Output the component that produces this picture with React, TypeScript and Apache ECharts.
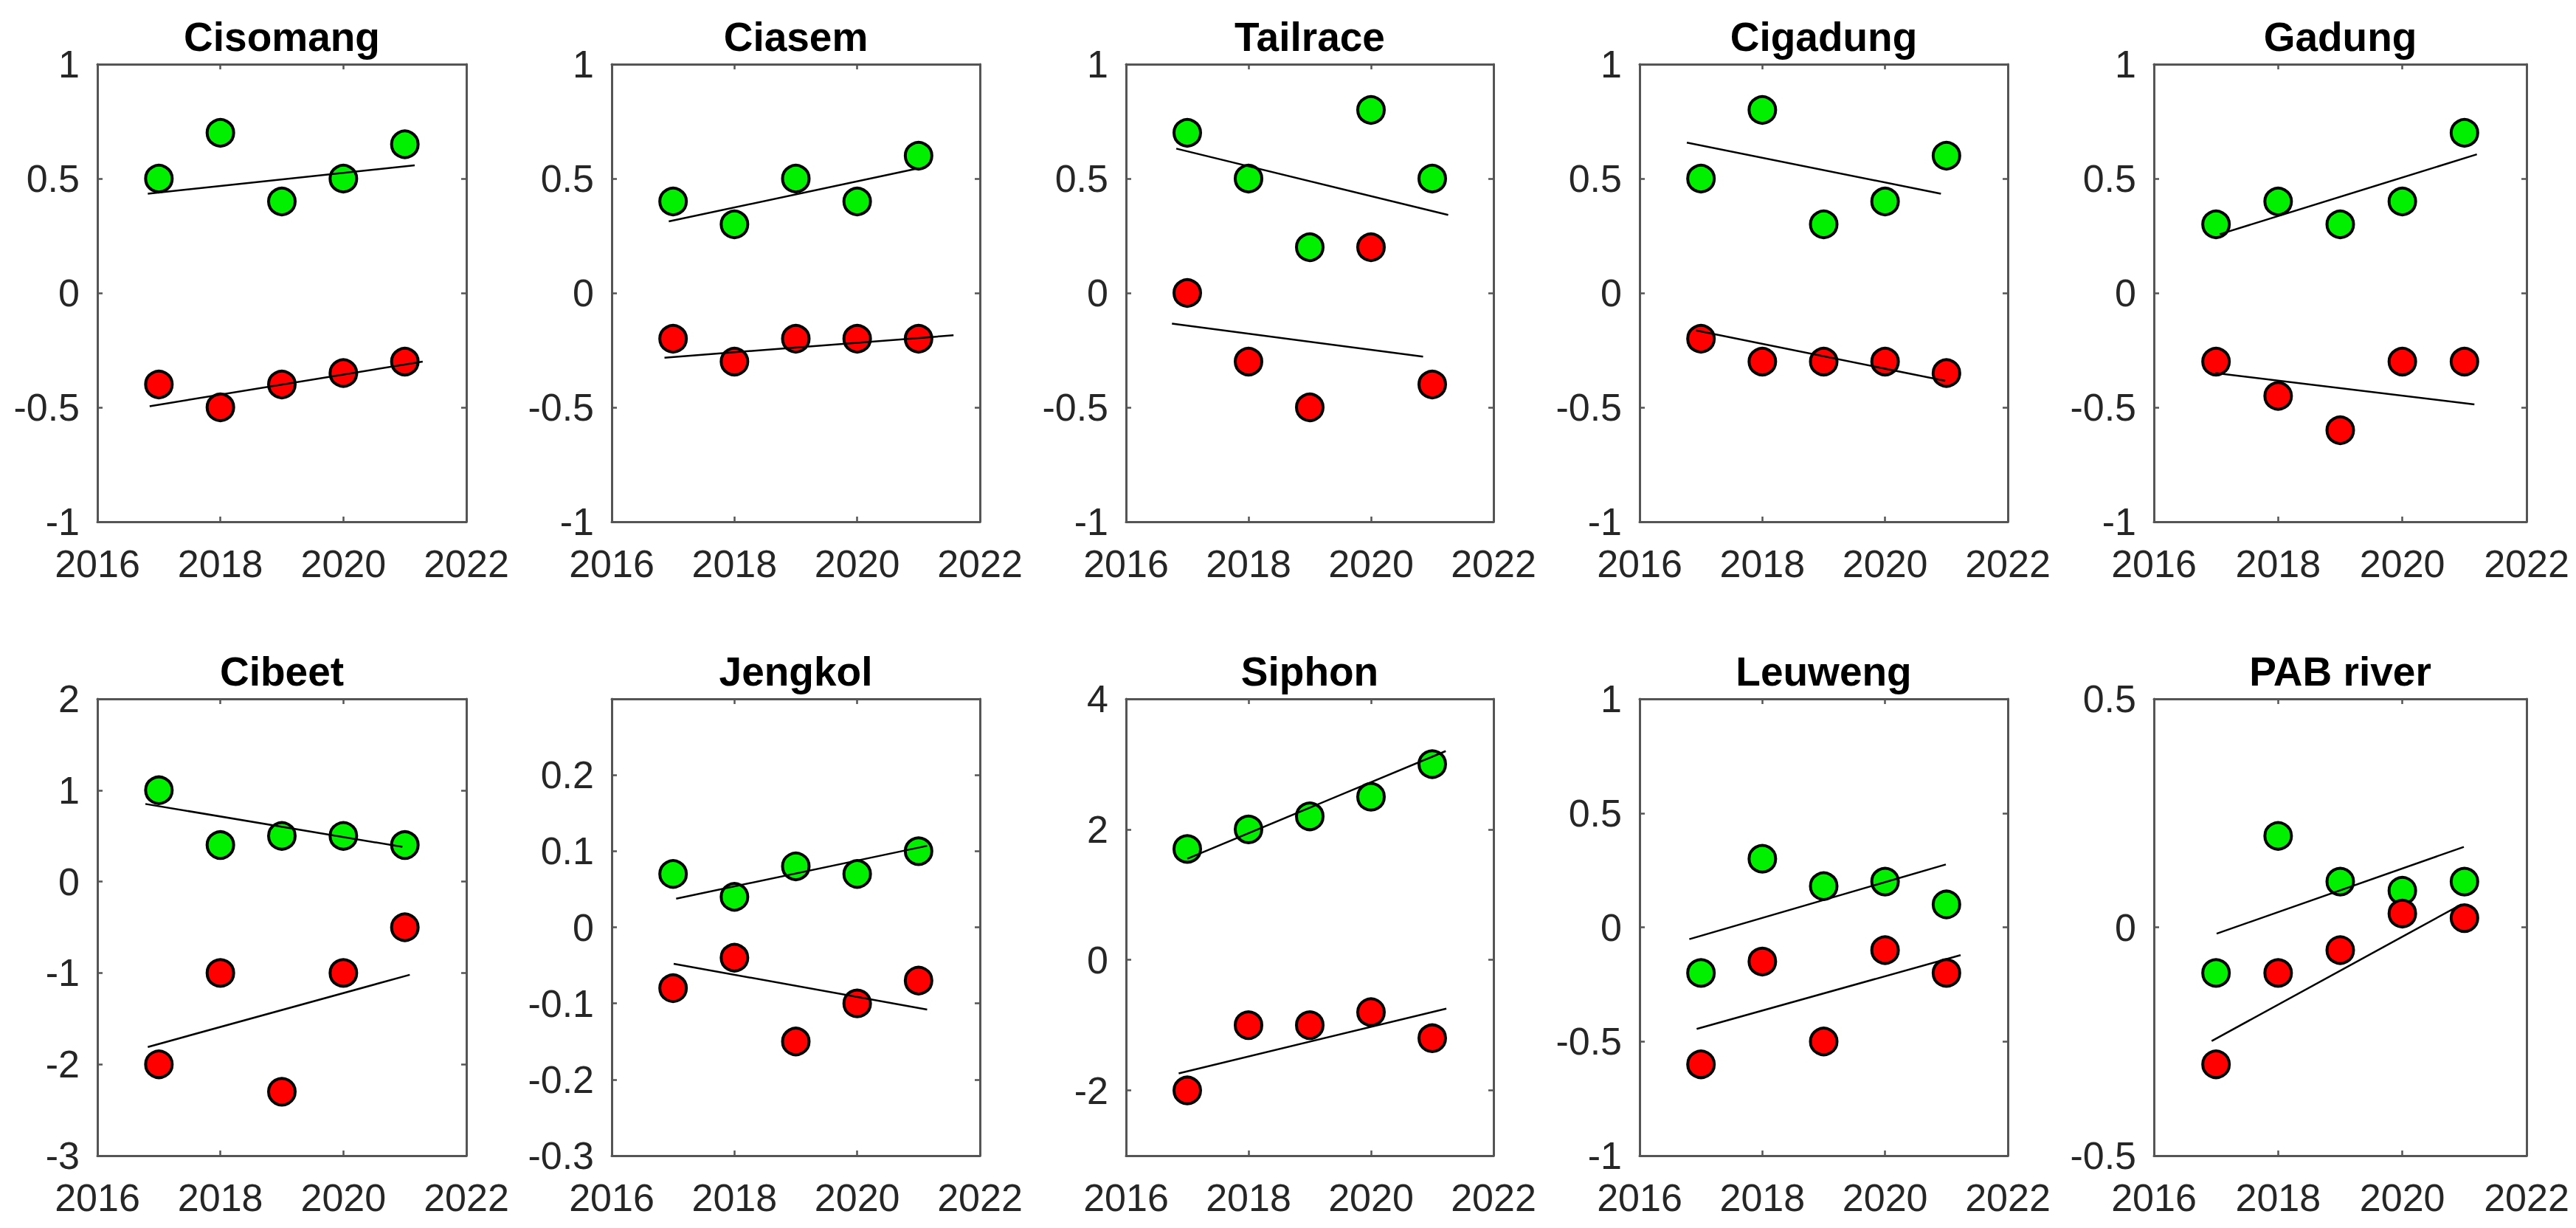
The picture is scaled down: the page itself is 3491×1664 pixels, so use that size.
import React, { useEffect, useRef } from 'react';
import * as echarts from 'echarts';

const SITE_NAMES = ['Cisomang', 'Ciasem', 'Tailrace', 'Cigadung', 'Gadung', 'Cibeet', 'Jengkol', 'Siphon', 'Leuweng', 'PAB river'];
const YEARS = [2017, 2018, 2019, 2020, 2021];
const X_MIN = 2016;
const X_MAX = 2022;
const X_STEP = 2;

const GREEN_VALUES = [
  [0.5, 0.7, 0.4, 0.5, 0.65],
  [0.4, 0.3, 0.5, 0.4, 0.6],
  [0.7, 0.5, 0.2, 0.8, 0.5],
  [0.5, 0.8, 0.3, 0.4, 0.6],
  [0.3, 0.4, 0.3, 0.4, 0.7],
  [1.0, 0.4, 0.5, 0.5, 0.4],
  [0.07, 0.04, 0.08, 0.07, 0.1],
  [1.7, 2.0, 2.2, 2.5, 3.0],
  [-0.2, 0.3, 0.18, 0.2, 0.1],
  [-0.1, 0.2, 0.1, 0.08, 0.1],
];
const RED_VALUES = [
  [-0.4, -0.5, -0.4, -0.35, -0.3],
  [-0.2, -0.3, -0.2, -0.2, -0.2],
  [0, -0.3, -0.5, 0.2, -0.4],
  [-0.2, -0.3, -0.3, -0.3, -0.35],
  [-0.3, -0.45, -0.6, -0.3, -0.3],
  [-2, -1, -2.3, -1, -0.5],
  [-0.08, -0.04, -0.15, -0.1, -0.07],
  [-2, -1, -1, -0.8, -1.2],
  [-0.6, -0.15, -0.5, -0.1, -0.2],
  [-0.3, -0.1, -0.05, 0.03, 0.02],
];
// trend line endpoints: [xStart, yStart, xEnd, yEnd]
const GREEN_TREND = [
  [2016.82, 0.434, 2021.16, 0.558],
  [2016.93, 0.313, 2021.0, 0.545],
  [2016.82, 0.631, 2021.26, 0.341],
  [2016.77, 0.657, 2020.91, 0.434],
  [2017.06, 0.257, 2021.2, 0.606],
  [2016.78, 0.85, 2020.96, 0.38],
  [2017.05, 0.0376, 2021.14, 0.107],
  [2017.0, 1.55, 2021.22, 3.2],
  [2016.81, -0.052, 2020.99, 0.275],
  [2017.01, -0.014, 2020.99, 0.176],
];
const RED_TREND = [
  [2016.85, -0.495, 2021.29, -0.3],
  [2016.86, -0.283, 2021.57, -0.185],
  [2016.75, -0.134, 2020.85, -0.278],
  [2016.92, -0.164, 2020.98, -0.384],
  [2016.99, -0.35, 2021.16, -0.487],
  [2016.82, -1.81, 2021.08, -1.02],
  [2017.01, -0.048, 2021.14, -0.108],
  [2016.86, -1.74, 2021.23, -0.746],
  [2016.93, -0.445, 2021.23, -0.122],
  [2016.93, -0.249, 2020.95, 0.05],
];
const Y_MIN = [-1, -1, -1, -1, -1, -3, -0.3, -3, -1, -0.5];
const Y_MAX = [1, 1, 1, 1, 1, 2, 0.3, 4, 1, 0.5];
const Y_TICKS = [
  [-1, -0.5, 0, 0.5, 1],
  [-1, -0.5, 0, 0.5, 1],
  [-1, -0.5, 0, 0.5, 1],
  [-1, -0.5, 0, 0.5, 1],
  [-1, -0.5, 0, 0.5, 1],
  [-3, -2, -1, 0, 1, 2],
  [-0.3, -0.2, -0.1, 0, 0.1, 0.2],
  [-2, 0, 2, 4],
  [-1, -0.5, 0, 0.5, 1],
  [-0.5, 0, 0.5],
];

const COL_LEFT = [132, 829, 1526, 2222, 2919];
const COL_W = [500, 499, 498, 499, 505];
const ROW_TOP = [87, 947];
const ROW_H = [620, 619];
const TITLE_Y = [50, 910];

const FONT = 'Liberation Sans';
const AXIS_COLOR = '#555555';
const LABEL_COLOR = '#262626';
const GREEN = '#00f000';
const RED = '#ff0000';

function fmt(v: number) {
  const r = Math.round(v * 1000) / 1000;
  return String(r);
}

function buildOption() {
  const grid: any[] = [];
  const xAxis: any[] = [];
  const yAxis: any[] = [];
  const series: any[] = [];
  const graphic: any[] = [];

  SITE_NAMES.forEach((name, i) => {
    const row = Math.floor(i / 5);
    const col = i % 5;
    grid.push({ left: COL_LEFT[col], top: ROW_TOP[row], width: COL_W[col], height: ROW_H[row], containLabel: false });

    const lineStyle = { color: AXIS_COLOR, width: 3 };
    const tickStyle = { color: AXIS_COLOR, width: 2.5 };
    const baseX = {
      type: 'value', gridIndex: i, min: X_MIN, max: X_MAX, interval: X_STEP,
      axisLine: { show: true, onZero: false, lineStyle },
      axisTick: { show: true, inside: true, length: 7, lineStyle: tickStyle },
      splitLine: { show: false },
    };
    xAxis.push({
      ...baseX, position: 'bottom',
      axisLabel: { show: true, margin: 31, fontSize: 52, fontFamily: FONT, color: LABEL_COLOR, formatter: (v: number) => String(v), showMinLabel: true, showMaxLabel: true },
    });
    xAxis.push({ ...baseX, position: 'top', axisLabel: { show: false } });

    const baseY = {
      type: 'value', gridIndex: i, min: Y_MIN[i], max: Y_MAX[i],
      axisLine: { show: true, onZero: false, lineStyle },
      axisTick: { show: true, inside: true, length: 7, lineStyle: tickStyle, customValues: Y_TICKS[i] },
      splitLine: { show: false },
    };
    yAxis.push({
      ...baseY, position: 'left',
      axisLabel: { show: true, margin: 24, fontSize: 52, fontFamily: FONT, color: LABEL_COLOR, formatter: (v: number) => fmt(v), customValues: Y_TICKS[i] },
    });
    yAxis.push({ ...baseY, position: 'right', axisLabel: { show: false } });

    const xi = 2 * i;
    const yi = 2 * i;
    series.push({
      type: 'scatter', xAxisIndex: xi, yAxisIndex: yi,
      data: YEARS.map((yr, k) => [yr, GREEN_VALUES[i][k]]),
      symbol: 'circle', symbolSize: 36,
      itemStyle: { color: GREEN, borderColor: '#000', borderWidth: 4, opacity: 1 },
      z: 2, silent: true,
    });
    series.push({
      type: 'scatter', xAxisIndex: xi, yAxisIndex: yi,
      data: YEARS.map((yr, k) => [yr, RED_VALUES[i][k]]),
      symbol: 'circle', symbolSize: 36,
      itemStyle: { color: RED, borderColor: '#000', borderWidth: 4, opacity: 1 },
      z: 2, silent: true,
    });
    const gt = GREEN_TREND[i];
    const rt = RED_TREND[i];
    series.push({
      type: 'line', xAxisIndex: xi, yAxisIndex: yi,
      data: [[gt[0], gt[1]], [gt[2], gt[3]]],
      symbol: 'none', showSymbol: false,
      lineStyle: { color: '#000', width: 2.5 }, z: 3, silent: true,
    });
    series.push({
      type: 'line', xAxisIndex: xi, yAxisIndex: yi,
      data: [[rt[0], rt[1]], [rt[2], rt[3]]],
      symbol: 'none', showSymbol: false,
      lineStyle: { color: '#000', width: 2.5 }, z: 3, silent: true,
    });

    graphic.push({
      type: 'text',
      x: COL_LEFT[col] + COL_W[col] / 2,
      y: TITLE_Y[row],
      style: {
        text: name, fill: '#000', fontSize: 55, fontWeight: 'bold', fontFamily: FONT,
        textAlign: 'center', textVerticalAlign: 'middle', align: 'center', verticalAlign: 'middle',
      },
    });
  });

  return { animation: false, backgroundColor: '#fff', grid, xAxis, yAxis, series, graphic };
}

export default function App() {
  const ref = useRef<HTMLDivElement>(null);
  useEffect(() => {
    const chart = echarts.init(ref.current!, null, { renderer: 'svg' });
    chart.setOption(buildOption() as any);
    return () => chart.dispose();
  }, []);
  return (
    <div
      ref={ref}
      style={{ position: 'fixed', left: 0, top: 0, width: 3491, height: 1664, background: '#fff' }}
    />
  );
}
